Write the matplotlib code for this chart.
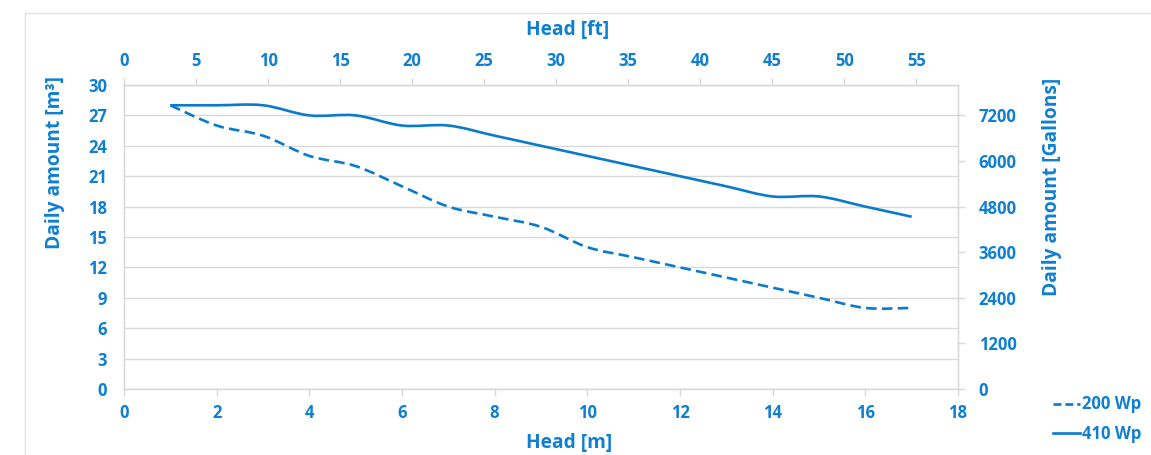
import matplotlib
matplotlib.use("Agg")
import matplotlib.pyplot as plt
from matplotlib.path import Path
from matplotlib.patches import PathPatch, Rectangle
from matplotlib.lines import Line2D
import numpy as np

head_m = [1, 2, 3, 4, 5, 6, 7, 8, 9, 10, 11, 12, 13, 14, 15, 16, 17]
wp200 = [28, 26, 25, 23, 22, 20, 18, 17, 16, 14, 13, 12, 11, 10, 9, 8, 8]
wp410 = [28, 28, 28, 27, 27, 26, 26, 25, 24, 23, 22, 21, 20, 19, 19, 18, 17]
series_labels = ["200 Wp", "410 Wp"]
left_ticks = [0, 3, 6, 9, 12, 15, 18, 21, 24, 27, 30]
right_ticks = [0, 1200, 2400, 3600, 4800, 6000, 7200]
bottom_ticks = [0, 2, 4, 6, 8, 10, 12, 14, 16, 18]
top_ticks = [0, 5, 10, 15, 20, 25, 30, 35, 40, 45, 50, 55]

BLUE = "#0f7fd2"
LINE = "#0a7bcc"
GRAY = "#d9d9d9"
FONT = "Open Sans"

plt.rcParams['font.family'] = [FONT, 'DejaVu Sans']
plt.rcParams['font.weight'] = 'bold'

W, H = 1151, 455
fig = plt.figure(figsize=(W / 100, H / 100), dpi=100)
fig.patches.append(Rectangle((25 / W, -0.1), 1.2, (455 - 13) / H + 0.1, transform=fig.transFigure,
                             fill=False, edgecolor="#e0e0e0", linewidth=1.0))

ax = fig.add_axes([124 / W, (455 - 389) / H, (958 - 124) / W, (389 - 85) / H])


def smooth_path(xs, ys):
    pts = np.column_stack([xs, ys]).astype(float)
    n = len(pts)
    verts = [pts[0]]
    codes = [Path.MOVETO]
    for i in range(n - 1):
        p0 = pts[i - 1] if i > 0 else pts[i]
        p1 = pts[i]
        p2 = pts[i + 1]
        p3 = pts[i + 2] if i + 2 < n else pts[i + 1]
        c1 = p1 + (p2 - p0) / 6.0
        c2 = p2 - (p3 - p1) / 6.0
        verts += [c1, c2, p2]
        codes += [Path.CURVE4] * 3
    return Path(verts, codes)


ax.add_patch(PathPatch(smooth_path(head_m, wp200), fill=False, edgecolor=LINE, linewidth=1.9,
                       linestyle=(0, (4, 2)), capstyle='butt', zorder=3))
ax.add_patch(PathPatch(smooth_path(head_m, wp410), fill=False, edgecolor=LINE, linewidth=1.9,
                       zorder=3))

ax.set_xlim(0, 18)
ax.set_ylim(0, 30)
ax.set_xticks(bottom_ticks)
ax.set_yticks(left_ticks)
ax.grid(axis='y', color=GRAY, linewidth=1.0)
ax.set_axisbelow(True)
for s in ax.spines.values():
    s.set_color(GRAY)
    s.set_linewidth(1.0)
ax.tick_params(axis='x', colors=GRAY, labelcolor=BLUE, labelsize=12, length=5, width=1, pad=6)
ax.tick_params(axis='y', length=0, labelcolor=BLUE, labelsize=12, pad=12)

axr = ax.twinx()
axr.set_ylim(0, 8000)
axr.set_yticks(right_ticks)
axr.tick_params(axis='y', colors=GRAY, labelcolor=BLUE, labelsize=12, length=5, width=1, pad=10)
for s in axr.spines.values():
    s.set_color(GRAY)

axt = ax.twiny()
axt.set_xlim(0, 57.9)
axt.set_xticks(top_ticks)
axt.tick_params(axis='x', colors=GRAY, labelcolor=BLUE, labelsize=12, length=5, width=1, pad=6)
for s in axt.spines.values():
    s.set_color(GRAY)

lab = dict(color=BLUE, fontsize=13.8, fontweight='bold', ha='center', va='center')
fig.text(569 / W, 1 - 443 / H, "Head [m]", **lab)
fig.text(568 / W, 1 - 30 / H, "Head [ft]", **lab)
fig.text(55 / W, 1 - 162 / H, "Daily amount [m³]", rotation=90, **lab)
fig.text(1052 / W, 1 - 187 / H, "Daily amount [Gallons]", rotation=90, **lab)

handles = [Line2D([], [], color=LINE, linewidth=1.9, linestyle=(0, (3, 1.5))),
           Line2D([], [], color=LINE, linewidth=1.9)]
fig.legend(handles, series_labels, loc='upper left', bbox_to_anchor=(1045 / W, (455 - 387) / H),
           frameon=False, borderpad=0, handlelength=1.6, handletextpad=0.1, labelspacing=0.7,
           prop={'family': FONT, 'weight': 'bold', 'size': 12}, labelcolor=BLUE)

fig.savefig("out.png", dpi=100)
